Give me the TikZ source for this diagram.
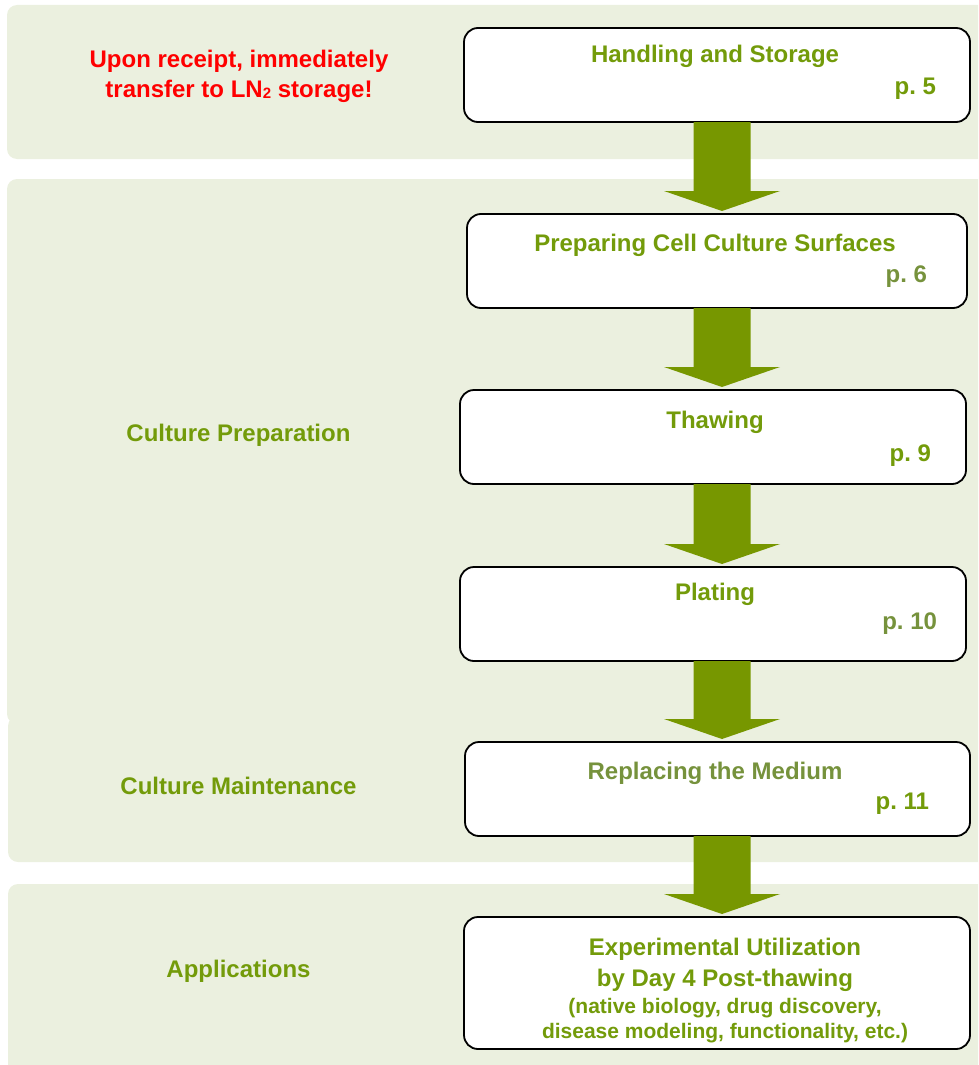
\documentclass[tikz,border=0pt]{standalone}
\usepackage{fontspec}
\setmainfont{Liberation Sans}
\usepackage{xcolor}
\usepackage{tikz}
\usetikzlibrary{calc}
\usetikzlibrary{positioning}
\frenchspacing
\definecolor{panelgreen}{RGB}{235,240,223}
\definecolor{arrowgreen}{RGB}{119,151,0}
\definecolor{titlegreen}{RGB}{115,155,10}
\definecolor{dullgreen}{RGB}{118,146,60}
\newcommand{\steptext}{\fontsize{24}{29}\selectfont\bfseries}
\newcommand{\notetext}{\fontsize{21}{27}\selectfont\bfseries}
\newcommand{\shafthalf}{28.5}
\newcommand{\headhalf}{58}
\newcommand{\flowarrow}[2]{% block arrow from #1 down to #2
	\fill[arrowgreen]
		($(#1.south -| mid)+(-\shafthalf,0)$) -- ($(#2.north -| mid)+(-\shafthalf,-23)$)
		-- ($(#2.north -| mid)+(-\headhalf,-23)$) -- ($(#2.north -| mid)+(0,-3)$)
		-- ($(#2.north -| mid)+(\headhalf,-23)$) -- ($(#2.north -| mid)+(\shafthalf,-23)$)
		-- ($(#1.south -| mid)+(\shafthalf,0)$) -- cycle;}

\begin{document}
\begin{tikzpicture}[x=1pt, y=-1pt, every node/.style={inner sep=0pt, outer sep=0pt},
	stepbox/.style={draw=black, line width=1.8pt, fill=white, rounded corners=14pt, minimum height=94pt},
	steptitle/.style={anchor=base, font=\steptext, text=titlegreen},
	steppage/.style={anchor=base east, font=\steptext, text=titlegreen},
	phase/.style={anchor=base, font=\steptext, text=titlegreen}]
	\useasboundingbox (0,0) rectangle (978,1065);
	\clip (0,0) rectangle (978,1065);
	% The frames:
	\fill[panelgreen, rounded corners=10pt]
		(7,5) rectangle (1000,159) % Storage
		(7,179) rectangle (1000,724) % Preparation
		(8,716) rectangle (1000,862) % Maintenance
		(8,884) rectangle (1000,1090); % Applications
	\coordinate (mid) at (722,0);
	% Steps:
	\node[stepbox, minimum width=506pt] (handling) at (717,75) {};
	\node[stepbox, minimum width=500pt] (surfaces) at (717,261) {};
	\node[stepbox, minimum width=506pt] (thawing) at (713,437) {};
	\node[stepbox, minimum width=506pt] (plating) at (713,614) {};
	\node[stepbox, minimum width=505pt] (medium) at (717.5,789) {};
	\node[stepbox, minimum width=506pt, minimum height=132pt] (utilization) at (717,983) {};
	% Arrows:
	\flowarrow{handling}{surfaces}
	\flowarrow{surfaces}{thawing}
	\flowarrow{thawing}{plating}
	\flowarrow{plating}{medium}
	\flowarrow{medium}{utilization}
	% Labels:
	\node[steptitle] (handlingtitle) at (715,63) {Handling and Storage};
	\node[steppage] (handlingpage) at (936,94) {p. 5};
	\node[steptitle] (surfacestitle) at (715,251) {Preparing Cell Culture Surfaces};
	\node[steppage, text=dullgreen] (surfacespage) at (927,282) {p. 6};
	\node[steptitle] (thawingtitle) at (715,428) {Thawing};
	\node[steppage] (thawingpage) at (931,461) {p. 9};
	\node[steptitle] (platingtitle) at (715,600) {Plating};
	\node[steppage, text=dullgreen] (platingpage) at (937,629) {p. 10};
	\node[steptitle, text=dullgreen] (mediumtitle) at (715,779) {Replacing the Medium};
	\node[steppage] (mediumpage) at (929,809) {p. 11};
	\node[steptitle] (utilization1) at (725,955) {Experimental Utilization};
	\node[steptitle] (utilization2) at (725,986) {by Day 4 Post-thawing};
	\node[steptitle, font=\notetext] (utilization3) at (725,1013) {(native biology, drug discovery,};
	\node[steptitle, font=\notetext] (utilization4) at (725,1038) {disease modeling, functionality, etc.)};
	% Phases:
	\node[phase, text=red] (receipt1) at (239,67) {Upon receipt, immediately};
	\node[phase, text=red] (receipt2) at (239,97) {transfer to LN\raisebox{-1pt}{\fontsize{15}{15}\selectfont 2} storage!};
	\node[phase] (preparation) at (238.5,441) {Culture Preparation};
	\node[phase] (maintenance) at (238.5,794) {Culture Maintenance};
	\node[phase] (applications) at (238.5,977) {Applications};
\end{tikzpicture}
\end{document}
